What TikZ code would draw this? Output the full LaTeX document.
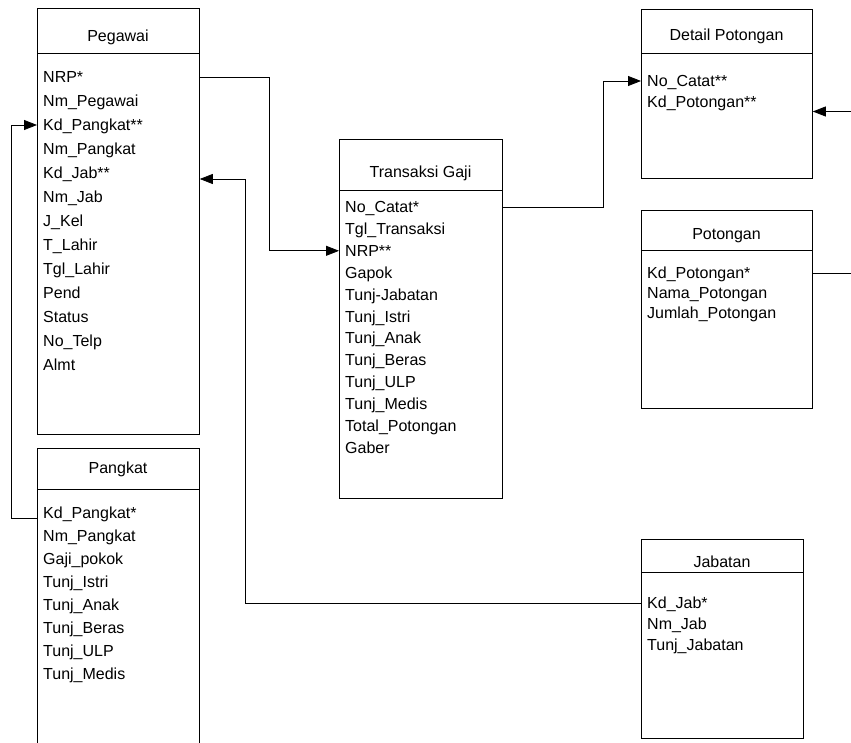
\documentclass[tikz,border=0pt]{standalone}
\usepackage{fontspec}
\setmainfont{Liberation Sans}
\usetikzlibrary{arrows.meta,positioning,calc}

\begin{document}
\begin{tikzpicture}[
    x=1pt, y=-1pt,
    box/.style={rectangle, draw, line width=0.8pt, anchor=north west, inner sep=0pt},
    title/.style={font=\fontsize{16}{19}\selectfont, anchor=base, inner sep=0pt},
    attr/.style={font=\fontsize{16}{19}\selectfont, anchor=west, inner sep=0pt, text height=13pt, text depth=2pt},
    link/.style={line width=0.8pt},
    arrow/.style={link, -{Triangle[length=13pt,width=10pt]}}
]
    \clip (0,0) rectangle (851,743);

    % Pegawai
    \node[box, minimum width=162pt, minimum height=45pt] (pgw-head) at (37,8) {};
    \node[box, minimum width=162pt, minimum height=381pt] (pgw) at (37,53) {};
    \node[title] (pgw-title) at (118,42) {Pegawai};
    \foreach \a [count=\i] in {NRP*, Nm\_Pegawai, Kd\_Pangkat**, Nm\_Pangkat, Kd\_Jab**, Nm\_Jab, J\_Kel, T\_Lahir, Tgl\_Lahir, Pend, Status, No\_Telp, Almt}
        \node[attr] (pgw-\i) at (43, 53+24*\i) {\a};

    % Pangkat
    \node[box, minimum width=162pt, minimum height=41pt] (pkt-head) at (37,448) {};
    \node[box, minimum width=162pt, minimum height=280pt] (pkt) at (37,489) {};
    \node[title] (pkt-title) at (118,473) {Pangkat};
    \foreach \a [count=\i] in {Kd\_Pangkat*, Nm\_Pangkat, Gaji\_pokok, Tunj\_Istri, Tunj\_Anak, Tunj\_Beras, Tunj\_ULP, Tunj\_Medis}
        \node[attr] (pkt-\i) at (43, 489.5+23*\i) {\a};

    % Transaksi Gaji
    \node[box, minimum width=163pt, minimum height=51pt] (trx-head) at (339,139) {};
    \node[box, minimum width=163pt, minimum height=308pt] (trx) at (339,190) {};
    \node[title] (trx-title) at (420.5,178) {Transaksi Gaji};
    \foreach \a [count=\i] in {No\_Catat*, Tgl\_Transaksi, NRP**, Gapok, Tunj-Jabatan, Tunj\_Istri, Tunj\_Anak, Tunj\_Beras, Tunj\_ULP, Tunj\_Medis, Total\_Potongan, Gaber}
        \node[attr] (trx-\i) at (345, 185.1+21.9*\i) {\a};

    % Detail Potongan
    \node[box, minimum width=171pt, minimum height=44pt] (dp-head) at (641,9) {};
    \node[box, minimum width=171pt, minimum height=125pt] (dp) at (641,53) {};
    \node[title] (dp-title) at (726.5,41) {Detail Potongan};
    \foreach \a [count=\i] in {No\_Catat**, Kd\_Potongan**}
        \node[attr] (dp-\i) at (647, 60+21*\i) {\a};

    % Potongan
    \node[box, minimum width=171pt, minimum height=40pt] (pot-head) at (641,210) {};
    \node[box, minimum width=171pt, minimum height=158pt] (pot) at (641,250) {};
    \node[title] (pot-title) at (726.5,240) {Potongan};
    \foreach \a [count=\i] in {Kd\_Potongan*, Nama\_Potongan, Jumlah\_Potongan}
        \node[attr] (pot-\i) at (647, 253+20*\i) {\a};

    % Jabatan
    \node[box, minimum width=162pt, minimum height=33pt] (jab-head) at (641,539) {};
    \node[box, minimum width=162pt, minimum height=166pt] (jab) at (641,572) {};
    \node[title] (jab-title) at (722,567) {Jabatan};
    \foreach \a [count=\i] in {Kd\_Jab*, Nm\_Jab, Tunj\_Jabatan}
        \node[attr] (jab-\i) at (647, 582+21*\i) {\a};

    % Link points
    \coordinate (pkt-link) at ($(pkt-1)+(0,6)$);
    \coordinate (pgw-link) at ($(pgw-5)+(0,6)$);
    \coordinate (dp-link) at ($(dp-2)+(0,9.5)$);

    % Relations
    \draw[arrow] (pgw.east |- pgw-1) -- ++(70,0) |- (trx.west |- trx-3);
    \draw[arrow] (trx.east |- trx-1) -- ++(101,0) |- (dp.west |- dp-1);
    \draw[arrow] (pkt.west |- pkt-link) -- ++(-26,0) |- (pgw.west |- pgw-3);
    \draw[arrow] (jab.west |- jab-1) -- ++(-396,0) |- (pgw.east |- pgw-link);
    \draw[arrow] (pot.east |- pot-1) -- ++(60,0) |- (dp.east |- dp-link);
\end{tikzpicture}
\end{document}
